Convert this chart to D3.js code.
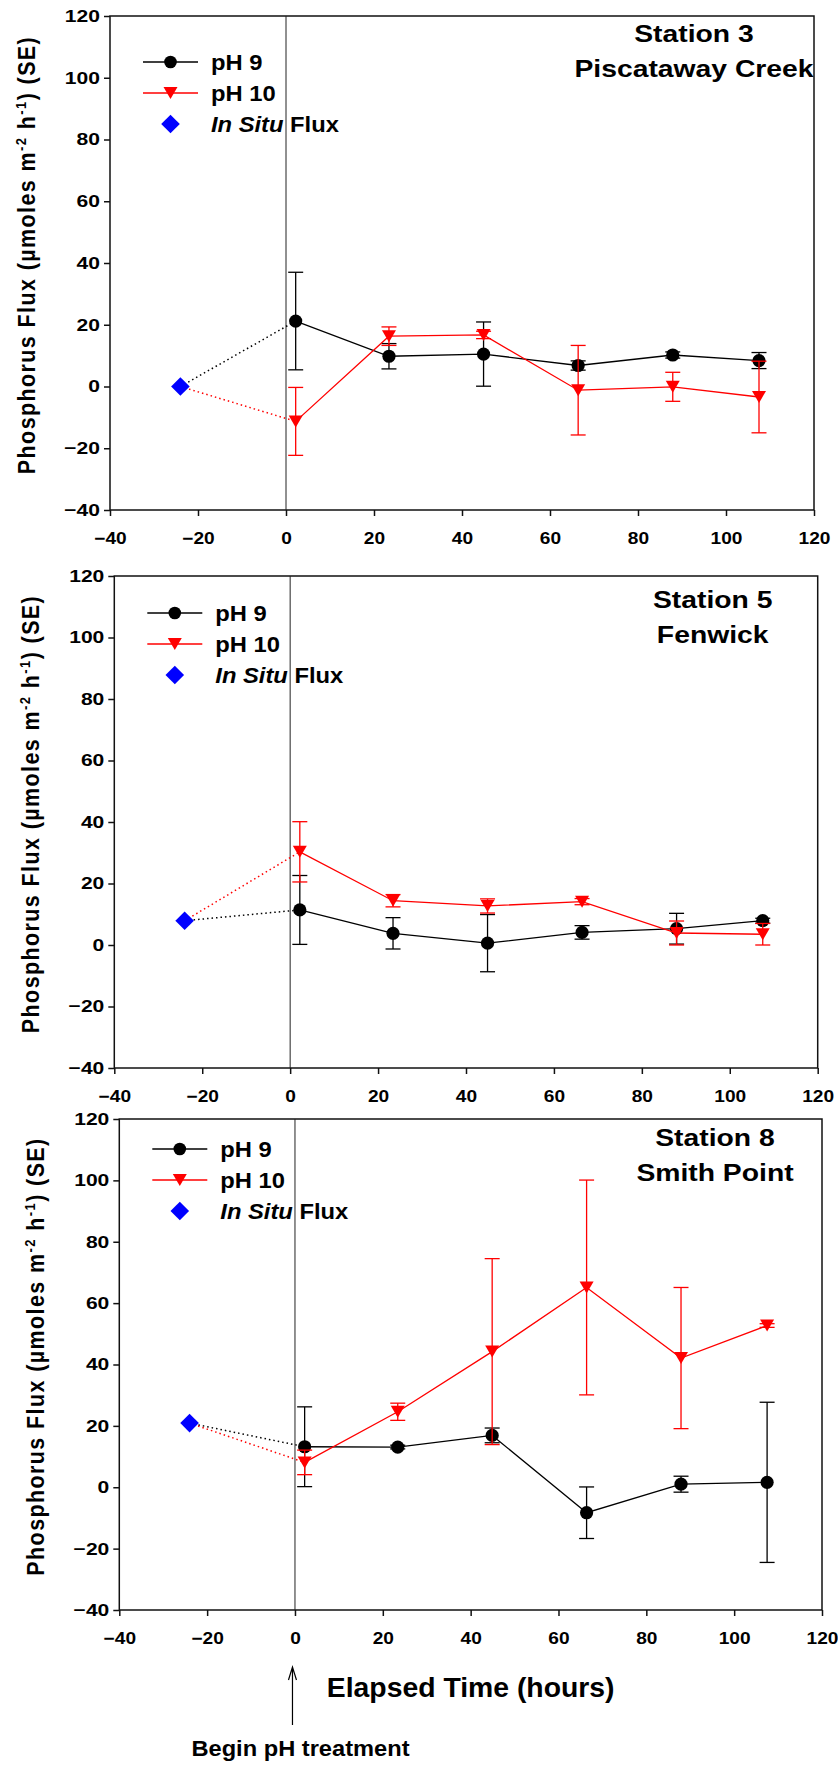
<!DOCTYPE html>
<html>
<head>
<meta charset="utf-8">
<style>
    body {
        margin: 0;
        background: #fff;
    }

    svg {
        display: block;
        font-family: 'Liberation Sans', Arial, sans-serif;
        font-weight: bold;
    }
</style>
</head>
<body>
<svg width="838" height="1765"></svg>

<script src="https://d3js.org/d3.v7.min.js"></script>
<script>
    // sampling times, hours after the pH treatment started
    let times = [2.2, 23.4, 44.9, 66.4, 87.9, 107.5]
    let inSituTime = -24

    let stationNames = ["Station 3", "Station 5", "Station 8"]
    let siteNames = ["Piscataway Creek", "Fenwick", "Smith Point"]

    // mean flux (umoles m-2 h-1) and standard error
    let ph9Station3 = [21.2, 9.8, 10.5, 6.8, 10.2, 8.4]
    let ph9SeStation3 = [15.8, 4.1, 10.4, 1.5, 1.0, 2.6]
    let ph10Station3 = [-11.3, 16.3, 16.7, -1.2, -0.1, -3.4]
    let ph10SeStation3 = [11.0, 3.0, 1.2, 14.5, 4.7, 11.6]

    let ph9Station5 = [11.4, 3.8, 0.6, 4.1, 5.3, 7.9]
    let ph9SeStation5 = [11.2, 5.1, 9.3, 2.2, 5.0, 0.8]
    let ph10Station5 = [30.3, 14.4, 12.7, 14.1, 3.9, 3.5]
    let ph10SeStation5 = [9.8, 2.0, 2.3, 1.0, 3.9, 3.5]

    let ph9Station8 = [13.2, 13.1, 16.9, -8.3, 1.0, 1.6]
    let ph9SeStation8 = [13.0, 0.6, 2.4, 8.4, 2.6, 26.1]
    let ph10Station8 = [8.1, 24.6, 44.2, 65.1, 42.1, 52.7]
    let ph10SeStation8 = [4.0, 2.8, 30.3, 35.0, 23.0, 0.6]

    let inSituFlux = [0, 7.9, 20.9]

    let xTicks = [-40, -20, 0, 20, 40, 60, 80, 100, 120]
    let yTicks = [-40, -20, 0, 20, 40, 60, 80, 100, 120]

    let panels = [
        { ph9: ph9Station3, ph9Se: ph9SeStation3, ph10: ph10Station3, ph10Se: ph10SeStation3 },
        { ph9: ph9Station5, ph9Se: ph9SeStation5, ph10: ph10Station5, ph10Se: ph10SeStation5 },
        { ph9: ph9Station8, ph9Se: ph9SeStation8, ph10: ph10Station8, ph10Se: ph10SeStation8 }
    ]

    // where each plot box sits on the page
    let frames = [
        { left: 110, right: 814, top: 16, bottom: 510, legendY: 46, titleX: 120, titleY: 26 },
        { left: 114.3, right: 817.7, top: 576, bottom: 1068, legendY: 37, titleX: 105, titleY: 32 },
        { left: 119.3, right: 822, top: 1119, bottom: 1610, legendY: 30, titleX: 107, titleY: 27 }
    ]

    let red = "#ff0000"
    let blue = "#0000ff"

    let svg = d3.select("svg")

    let triangle = "M-7,-6L7,-6L0,6Z"
    let diamond = "M0,-9.3L9.3,0L0,9.3L-9.3,0Z"

    // the lettering in the original is drawn a bit wide, so text gets a horizontal scale
    function wideText(g, x, y, sx) {
        return g.append("text")
            .attr("transform", "translate(" + x + "," + y + ") scale(" + sx + ",1)")
    }

    panels.forEach((p, i) => {
        let f = frames[i]
        let g = svg.append("g")

        let x = d3.scaleLinear().domain([-40, 120]).range([f.left, f.right])
        let y = d3.scaleLinear().domain([-40, 120]).range([f.bottom, f.top])

        // box
        g.append("rect")
            .attr("x", f.left)
            .attr("y", f.top)
            .attr("width", f.right - f.left)
            .attr("height", f.bottom - f.top)
            .style("fill", "none")
            .style("stroke", "#111")
            .style("stroke-width", 1.5)

        // start of treatment
        g.append("line")
            .attr("x1", x(0)).attr("x2", x(0))
            .attr("y1", f.top).attr("y2", f.bottom)
            .style("stroke", "#222")
            .style("stroke-width", 1)

        let xAxis = g.append("g")
            .attr("transform", "translate(0," + f.bottom + ")")
            .call(d3.axisBottom(x).tickValues(xTicks).tickSize(6).tickPadding(16))
        let yAxis = g.append("g")
            .attr("transform", "translate(" + f.left + ",0)")
            .call(d3.axisLeft(y).tickValues(yTicks).tickSize(6).tickPadding(4))

        for (let a of [xAxis, yAxis]) {
            a.select(".domain").remove()
            a.selectAll("line").style("stroke", "#111").style("stroke-width", 1.5)
            a.selectAll("text")
                .style("font-family", "'Liberation Sans', Arial, sans-serif")
                .style("font-weight", "bold")
                .style("fill", "#000")
        }
        xAxis.selectAll("text")
            .style("font-size", "16.5px")
            .attr("transform", "scale(1.16,1)")
        yAxis.selectAll("text")
            .style("font-size", "17px")
            .attr("transform", "translate(-10,0) scale(1.24,1) translate(10,0)")

        // dotted links from the in situ flux to the first measurements
        let start = [inSituTime, inSituFlux[i]]
        g.append("line")
            .attr("x1", x(start[0])).attr("y1", y(start[1]))
            .attr("x2", x(times[0])).attr("y2", y(p.ph9[0]))
            .style("stroke", "#000").style("stroke-width", 1.5)
            .style("stroke-dasharray", "1.5,3")
        g.append("line")
            .attr("x1", x(start[0])).attr("y1", y(start[1]))
            .attr("x2", x(times[0])).attr("y2", y(p.ph10[0]))
            .style("stroke", red).style("stroke-width", 1.5)
            .style("stroke-dasharray", "1.5,3")

        let series = [
            { mean: p.ph9, se: p.ph9Se, color: "#000", marker: "circle" },
            { mean: p.ph10, se: p.ph10Se, color: red, marker: "triangle" }
        ]

        let line = d3.line()
            .x(d => x(d[0]))
            .y(d => y(d[1]))

        series.forEach(s => {
            let pts = times.map((t, k) => [t, s.mean[k], s.se[k]])

            g.append("path")
                .attr("d", line(pts))
                .style("fill", "none")
                .style("stroke", s.color)
                .style("stroke-width", 1.3)

            let bars = g.append("g").selectAll("g")
                .data(pts)
                .join("g")
                .style("stroke", s.color)
                .style("stroke-width", 1.3)

            bars.append("line")
                .attr("x1", d => x(d[0])).attr("x2", d => x(d[0]))
                .attr("y1", d => y(d[1] - d[2])).attr("y2", d => y(d[1] + d[2]))
            bars.append("line")
                .attr("x1", d => x(d[0]) - 7.5).attr("x2", d => x(d[0]) + 7.5)
                .attr("y1", d => y(d[1] + d[2])).attr("y2", d => y(d[1] + d[2]))
            bars.append("line")
                .attr("x1", d => x(d[0]) - 7.5).attr("x2", d => x(d[0]) + 7.5)
                .attr("y1", d => y(d[1] - d[2])).attr("y2", d => y(d[1] - d[2]))

            if (s.marker == "circle") {
                g.append("g").selectAll("circle")
                    .data(pts)
                    .join("circle")
                    .attr("cx", d => x(d[0]))
                    .attr("cy", d => y(d[1]))
                    .attr("r", 6.6)
                    .style("fill", s.color)
            } else {
                g.append("g").selectAll("path")
                    .data(pts)
                    .join("path")
                    .attr("d", triangle)
                    .attr("transform", d => "translate(" + x(d[0]) + "," + y(d[1]) + ")")
                    .style("fill", s.color)
            }
        })

        g.append("path")
            .attr("d", diamond)
            .attr("transform", "translate(" + x(start[0]) + "," + y(start[1]) + ")")
            .style("fill", blue)

        // legend
        let lg = g.append("g").attr("transform", "translate(" + f.left + "," + (f.top + f.legendY) + ")")
        let rowGap = 31
        lg.append("line").attr("x1", 33).attr("x2", 88).attr("y1", 0).attr("y2", 0)
            .style("stroke", "#000").style("stroke-width", 1.3)
        lg.append("circle").attr("cx", 60.5).attr("cy", 0).attr("r", 6.3).style("fill", "#000")
        lg.append("line").attr("x1", 33).attr("x2", 88).attr("y1", rowGap).attr("y2", rowGap)
            .style("stroke", red).style("stroke-width", 1.3)
        lg.append("path").attr("d", triangle).attr("transform", "translate(60.5," + rowGap + ")")
            .style("fill", red)
        lg.append("path").attr("d", diamond).attr("transform", "translate(60.5," + (2 * rowGap) + ")")
            .style("fill", blue)

        let labels = ["pH 9", "pH 10"]
        labels.forEach((t, k) => {
            wideText(lg, 101, k * rowGap + 8, 1.08)
                .style("font-size", "22px")
                .text(t)
        })
        let inSituLabel = wideText(lg, 101, 2 * rowGap + 8, 1.08).style("font-size", "22px")
        inSituLabel.append("tspan").style("font-style", "italic").text("In Situ")
        inSituLabel.append("tspan").text(" Flux")

        // station name
        let tx = f.right - f.titleX
        wideText(g, tx, f.top + f.titleY, 1.18)
            .style("font-size", "24px")
            .style("text-anchor", "middle")
            .text(stationNames[i])
        wideText(g, tx, f.top + f.titleY + 35, 1.18)
            .style("font-size", "24px")
            .style("text-anchor", "middle")
            .text(siteNames[i])

        // y axis title
        let yl = g.append("text")
            .attr("transform", "translate(" + (f.left - 75) + "," + ((f.top + f.bottom) / 2 - 8) + ") scale(1.12,1) rotate(-90)")
            .style("font-size", "21.5px")
            .style("letter-spacing", "1.4px")
            .style("text-anchor", "middle")
        yl.append("tspan").text("Phosphorus Flux (\u00b5moles m")
        yl.append("tspan").attr("dy", -8).style("font-size", "13px").text("-2")
        yl.append("tspan").attr("dy", 8).text(" h")
        yl.append("tspan").attr("dy", -8).style("font-size", "13px").text("-1")
        yl.append("tspan").attr("dy", 8).text(") (SE)")

        if (i == 2) {
            // x axis title and the treatment arrow under the last panel
            wideText(g, x(40), f.bottom + 87, 1.05)
                .style("font-size", "27px")
                .style("text-anchor", "middle")
                .text("Elapsed Time (hours)")

            let ax = x(0) - 2.5
            let tip = f.bottom + 57
            g.append("path")
                .attr("d", "M" + ax + "," + (f.bottom + 115) + "V" + tip +
                    "M" + (ax - 4) + "," + (tip + 13) + "L" + ax + "," + tip + "L" + (ax + 4) + "," + (tip + 13))
                .style("fill", "none")
                .style("stroke", "#000")
                .style("stroke-width", 1.2)

            wideText(g, x(0) + 5.5, f.bottom + 146, 1.1)
                .style("font-size", "21.5px")
                .style("text-anchor", "middle")
                .text("Begin pH treatment")
        }
    })
</script>
</body>
</html>
